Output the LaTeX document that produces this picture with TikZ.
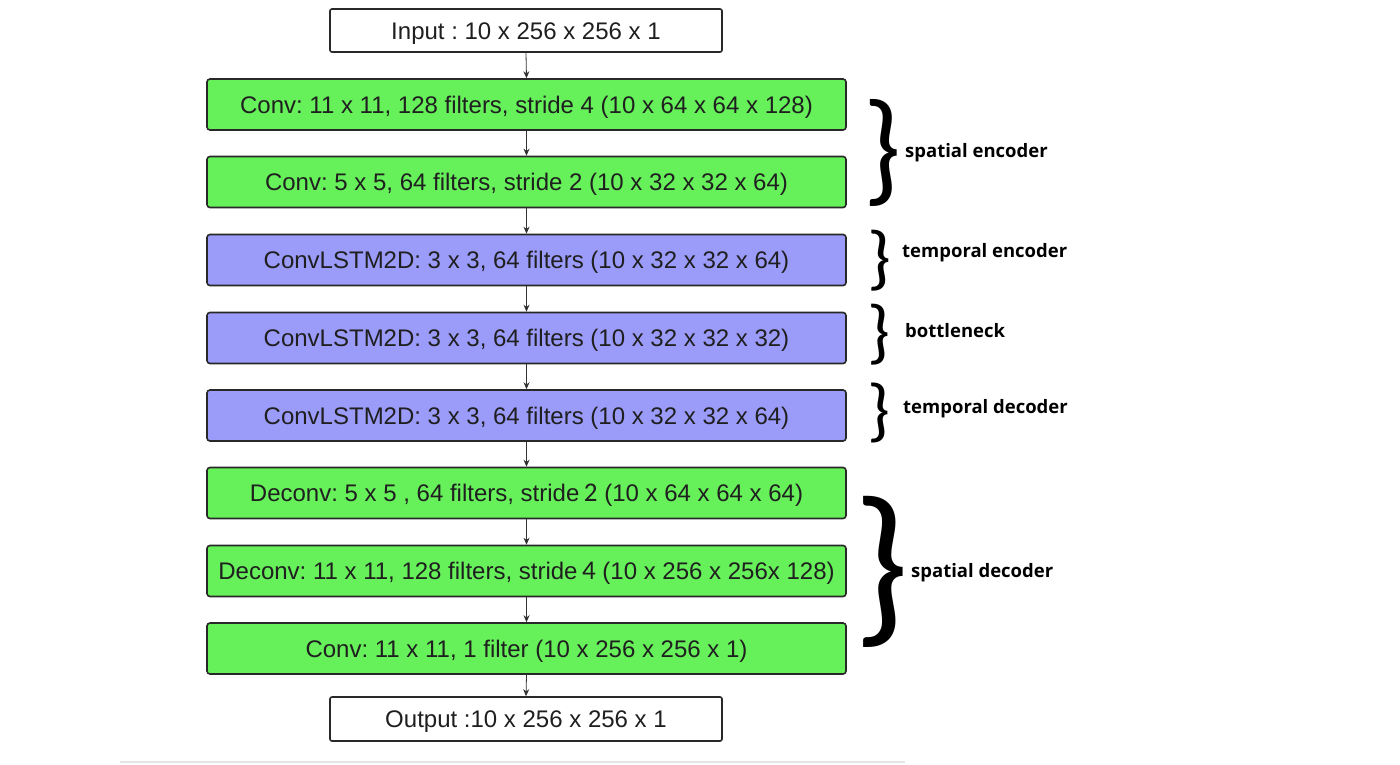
\documentclass[tikz,border=0pt]{standalone}
\usepackage{fontspec}
\setmainfont{Liberation Sans}
\newfontfamily\calib{Carlito}
\newfontfamily\lab{Open Sans}
\usetikzlibrary{arrows.meta}
\definecolor{boxgreen}{RGB}{102,240,90}
\definecolor{boxpurple}{RGB}{155,155,250}
\definecolor{boxline}{RGB}{40,40,40}
\newcommand{\bracesym}[2]{\resizebox*{#1}{#2}{\calib\}}}
\tikzset{
  layer/.style={draw=boxline, line width=1.6pt, rounded corners=3pt, minimum width=639pt, minimum height=51pt, inner sep=0pt, text height=20pt, text depth=3pt, font=\fontsize{24}{28}\selectfont\frenchspacing, text=black!88},
  greenbox/.style={layer, fill=boxgreen},
  purplebox/.style={layer, fill=boxpurple},
  iobox/.style={layer, fill=white, minimum width=392pt, minimum height=43pt, rounded corners=2pt},
  flow/.style={draw=black!80, line width=0.8pt, -{Stealth[length=7pt,width=6pt]}},
  bracenode/.style={inner sep=0pt, outer sep=0pt},
  grouplabel/.style={anchor=west, font=\lab\bfseries\fontsize{18.5}{22}\selectfont, text=black, inner sep=0pt}
}
\begin{document}
\begin{tikzpicture}[x=1pt,y=-1pt]
\useasboundingbox (0,0) rectangle (1400,764);
\fill[white] (0,0) rectangle (1400,764);
\node[iobox] (in) at (526,30.5) {Input : 10 x 256 x 256 x 1};
\node[greenbox] (c1) at (526.5,104.5) {Conv: 11 x 11, 128 filters, stride 4 (10 x 64 x 64 x 128)};
\node[greenbox] (c2) at (526.5,182) {Conv: 5 x 5, 64 filters, stride 2 (10 x 32 x 32 x 64)};
\node[purplebox] (l1) at (526.5,260) {ConvLSTM2D: 3 x 3, 64 filters (10 x 32 x 32 x 64)};
\node[purplebox] (l2) at (526.5,338) {ConvLSTM2D: 3 x 3, 64 filters (10 x 32 x 32 x 32)};
\node[purplebox] (l3) at (526.5,415.5) {ConvLSTM2D: 3 x 3, 64 filters (10 x 32 x 32 x 64)};
\node[greenbox] (d1) at (526.5,493) {Deconv: 5 x 5 , 64 filters, stride{\calib\fontsize{27}{28}\selectfont\,2} (10 x 64 x 64 x 64)};
\node[greenbox] (d2) at (526.5,571) {Deconv: 11 x 11, 128 filters, stride{\calib\fontsize{27}{28}\selectfont\,4} (10 x 256 x 256x 128)};
\node[greenbox] (c3) at (526.5,648.5) {Conv: 11 x 11, 1 filter (10 x 256 x 256 x 1)};
\node[iobox, minimum height=44pt] (out) at (526,719) {Output :10 x 256 x 256 x 1};
\foreach \a/\b in {in/c1,c1/c2,c2/l1,l1/l2,l2/l3,l3/d1,d1/d2,d2/c3,c3/out}
  \draw[flow] (\a.south) -- (\b.north);
% braces
\node[bracenode] (b1) at (882,153) {\bracesym{38pt}{107pt}};
\node[grouplabel] (t1) at (905,153) {spatial encoder};
\node[bracenode] (b2) at (879,261) {\bracesym{24pt}{61pt}};
\node[grouplabel] (t2) at (902,253) {temporal encoder};
\node[bracenode] (b3) at (878.5,335) {\bracesym{23pt}{61pt}};
\node[grouplabel] (t3) at (905,331) {bottleneck};
\node[bracenode] (b4) at (878.5,412.5) {\bracesym{23pt}{60pt}};
\node[grouplabel] (t4) at (903,409) {temporal decoder};
\node[bracenode] (b5) at (881,572) {\bracesym{56pt}{151pt}};
\node[grouplabel] (t5) at (911,573) {spatial decoder};
% bottom rule
\draw[draw=black!10, line width=2pt] (120,762) -- (905,762);
\end{tikzpicture}
\end{document}
